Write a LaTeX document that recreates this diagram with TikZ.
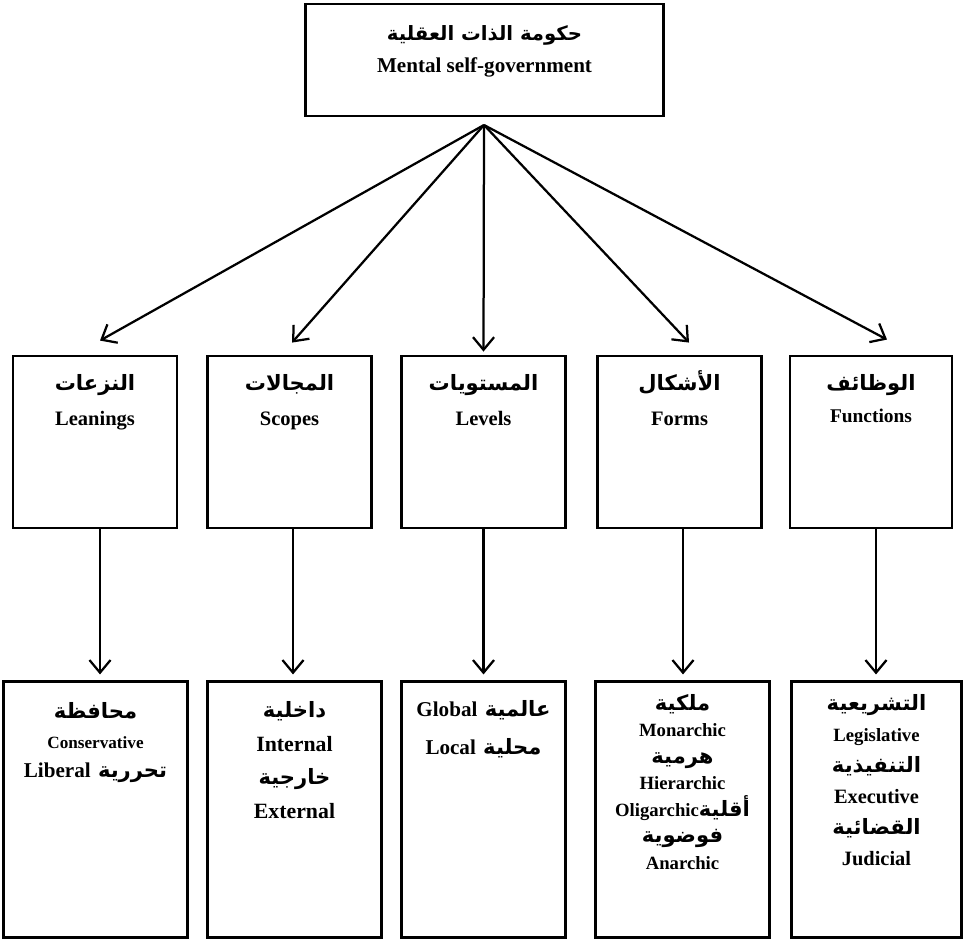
\documentclass[tikz,border=0pt]{standalone}
\usepackage{fontspec}
\setmainfont{Liberation Serif}
\newfontfamily\arabicfont[Script=Arabic]{DejaVu Sans}
\TeXXeTstate=1
\usetikzlibrary{arrows.meta}

\newcommand{\ar}[2][15]{{\arabicfont\bfseries\fontsize{#1}{#1}\selectfont\beginR #2\endR}}
\newcommand{\en}[1]{\beginL{\rmfamily\fontsize{15}{15}\selectfont #1}\endL}

\begin{document}
\begin{tikzpicture}[x=0.025cm,y=-0.025cm]
	\tikzset{box/.style={draw,
				rectangle,
				line width=2pt,
				inner sep=0pt},
			topbox/.style={box,
				minimum width=8.95cm,
				minimum height=2.8cm},
			midbox/.style={box,
				minimum width=4.1cm,
				minimum height=4.3cm},
			lowbox/.style={box,
				minimum height=6.4cm},
			txt/.style={align=center,
				anchor=north,
				inner sep=0pt},
			arrow/.style={-{Straight Barb[length=9pt,width=15pt,line width=1.6pt]},
				line width=1.6pt}}
	\useasboundingbox (0,0) rectangle (966,941);

	% Nodes
	\node[topbox] (mind) at (484.5,60) {};
	\node[txt, font=\bfseries\fontsize{15}{23}\selectfont] (mindtext) at ([yshift=-16pt]mind.north)
		{\ar[14]{حكومة الذات العقلية}\\ Mental self-government};
	\coordinate (hub) at (484,125);

	\node[midbox] (lean) at (95,442) {};
	\node[midbox] (scope) at (289.5,442) {};
	\node[midbox] (level) at (483.5,442) {};
	\node[midbox] (form) at (679.5,442) {};
	\node[midbox, minimum width=4.05cm] (func) at (871,442) {};

	\tikzset{title/.style={txt, font=\bfseries\fontsize{14.6}{25}\selectfont}}
	\node[title] (leantext) at ([yshift=-14pt]lean.north) {\ar{النزعات}\\ Leanings};
	\node[title] (scopetext) at ([yshift=-14pt]scope.north) {\ar{المجالات}\\ Scopes};
	\node[title] (leveltext) at ([yshift=-14pt]level.north) {\ar{المستويات}\\ Levels};
	\node[title] (formtext) at ([yshift=-11pt]form.north) {\ar{الأشكال}\\ Forms};
	\node[title, font=\bfseries\fontsize{13.8}{23}\selectfont] (functext) at ([yshift=-14pt]func.north)
		{\ar{الوظائف}\\ Functions};

	\node[lowbox, minimum width=4.6cm] (leanlist) at (95.5,809.5) {};
	\node[lowbox, minimum width=4.35cm] (scopelist) at (294.5,809.5) {};
	\node[lowbox, minimum width=4.1cm] (levellist) at (483.5,809.5) {};
	\node[lowbox, minimum width=4.35cm] (formlist) at (682.5,809.5) {};
	\node[lowbox, minimum width=4.25cm] (funclist) at (876.5,809.5) {};

	\node[txt, font=\bfseries\fontsize{15}{21}\selectfont] (leanitems) at ([yshift=-16pt]leanlist.north)
		{\ar{محافظة}\\ {\fontsize{12.2}{12}\selectfont Conservative}\\
		\ar{تحررية \en{Liberal}}};
	\node[txt, font=\bfseries\fontsize{15.5}{24}\selectfont] (scopeitems) at ([yshift=-15pt]scopelist.north)
		{\ar{داخلية}\\ Internal\\ \ar{خارجية}\\ External};
	\node[txt, font=\bfseries\fontsize{15}{27}\selectfont] (levelitems) at ([yshift=-14pt]levellist.north)
		{\ar{عالمية \en{Global}}\\ \ar{محلية \en{Local}}};
	\node[txt, font=\bfseries\fontsize{13.3}{18.8}\selectfont] (formitems) at ([yshift=-10pt]formlist.north)
		{\ar{ملكية}\\ Monarchic\\ \ar{هرمية}\\ Hierarchic\\
		\ar{أقلية\beginL{\rmfamily\fontsize{13.3}{13}\selectfont Oligarchic}\endL}\\ \ar{فوضوية}\\ Anarchic};
	\node[txt, font=\bfseries\fontsize{14.5}{22}\selectfont] (funcitems) at ([yshift=-10pt]funclist.north)
		{\ar{التشريعية}\\ {\fontsize{13.3}{13}\selectfont Legislative}\\ \ar{التنفيذية}\\ Executive\\
		\ar{القضائية}\\ Judicial};

	% Arrow ends
	\coordinate (leanend) at ([shift={(5,0)}]lean.south |- leanlist.north);
	\coordinate (scopeend) at ([shift={(3.5,0)}]scope.south |- scopelist.north);
	\coordinate (levelend) at (level.south |- levellist.north);
	\coordinate (formend) at ([shift={(3.5,0)}]form.south |- formlist.north);
	\coordinate (funcend) at ([shift={(5,0)}]func.south |- funclist.north);

	% Arrows
	\draw[arrow] (hub) -- ([shift={(5,-14)}]lean.north);
	\draw[arrow] (hub) -- ([shift={(2.5,-12)}]scope.north);
	\draw[arrow] (hub) -- ([shift={(0,-3)}]level.north);
	\draw[arrow] (hub) -- ([shift={(9.5,-12)}]form.north);
	\draw[arrow] (hub) -- ([shift={(16,-15)}]func.north);

	\draw[arrow] ([shift={(5,0)}]lean.south) -- ([yshift=4pt]leanend);
	\draw[arrow] ([shift={(3.5,0)}]scope.south) -- ([yshift=4pt]scopeend);
	\draw[arrow] (level.south) -- ([yshift=4pt]levelend);
	\draw[arrow] ([shift={(3.5,0)}]form.south) -- ([yshift=4pt]formend);
	\draw[arrow] ([shift={(5,0)}]func.south) -- ([yshift=4pt]funcend);
\end{tikzpicture}
\end{document}
